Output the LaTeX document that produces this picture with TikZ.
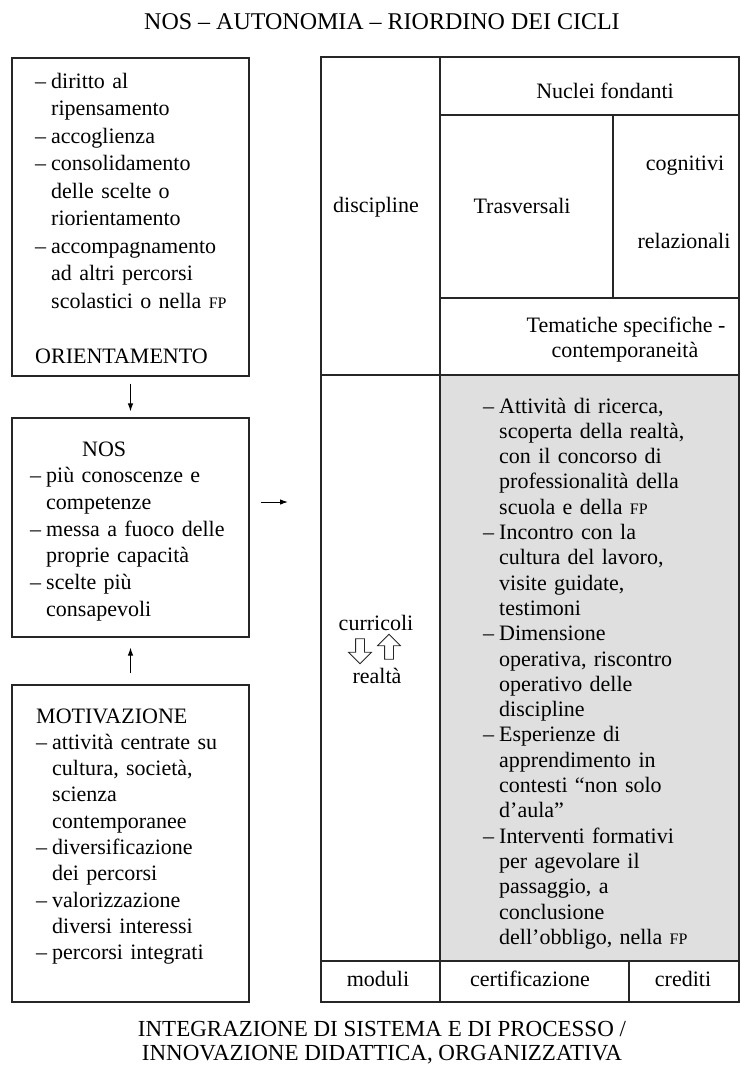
\documentclass[tikz,border=0pt]{standalone}
\usepackage{fontspec}
\setmainfont{Liberation Serif}
\usepackage{tikz}
\usetikzlibrary{arrows.meta}
\usetikzlibrary{shapes.arrows}

\newcommand{\vo}{\makebox[16pt][l]{–}}
\newcommand{\va}{\hspace*{16pt}}
\newcommand{\fp}{{\fontsize{16}{16}\selectfont FP}}

\begin{document}
\begin{tikzpicture}[x=1pt,y=-1pt,font=\fontsize{22}{26.5}\selectfont,
  box/.style={draw=black!85,line width=1.1pt,minimum width=237pt,inner sep=0pt},
  cell/.style={draw=black!85,line width=1.1pt,inner sep=0pt},
  lista/.style={anchor=base west,align=left,text width=230pt,inner sep=0pt},
  voce/.style={anchor=base,inner sep=0pt},
  freccia/.style={-{Latex[length=8pt,width=5.5pt]},line width=1pt},
  vuota/.style={draw=black!85,line width=0.8pt,single arrow,minimum height=25pt,
    inner xsep=0pt,inner ysep=4pt,single arrow head extend=7pt}]
\useasboundingbox (0,0) rectangle (740,1066);

\node[voce,font=\fontsize{24}{28}\selectfont] (titolo) at (382,29) {NOS – AUTONOMIA – RIORDINO DEI CICLI};

% colonna di sinistra
\node[box,minimum height=318pt] (orient) at (130.5,217) {};
\node[box,minimum height=219pt] (nos) at (130.5,527.5) {};
\node[box,minimum height=317pt] (motiv) at (130.5,843.5) {};

\node[lista,font=\fontsize{22}{27.5}\selectfont] (torient) at (35,88) {\vo diritto al\\
\va ripensamento\\
\vo accoglienza\\
\vo consolidamento\\
\va delle scelte o\\
\va riorientamento\\
\vo accompagnamento\\
\va ad altri percorsi\\
\va scolastici o nella \fp\\[27.5pt]
ORIENTAMENTO};

\node[lista,font=\fontsize{22}{26.7}\selectfont] (tnos) at (30,456) {\hspace*{52pt}NOS\\
\vo più conoscenze e\\
\va competenze\\
\vo messa a fuoco delle\\
\va proprie capacità\\
\vo scelte più\\
\va consapevoli};

\node[lista,font=\fontsize{22}{26.3}\selectfont] (tmotiv) at (36,723) {MOTIVAZIONE\\
\vo attività centrate su\\
\va cultura, società,\\
\va scienza\\
\va contemporanee\\
\vo diversificazione\\
\va dei percorsi\\
\vo valorizzazione\\
\va diversi interessi\\
\vo percorsi integrati};

\draw[freccia,shorten <=7pt,shorten >=6pt] (orient) -- (nos);
\draw[freccia,shorten <=11pt,shorten >=10pt] (motiv) -- (nos);
\coordinate (punta) at (288,502);
\draw[freccia,shorten <=11pt] (nos.east |- punta) -- (punta);

% tabella
\node[cell,minimum width=119pt,minimum height=318pt] (disc) at (380.5,216) {};
\node[cell,minimum width=299pt,minimum height=58pt] (nucl) at (589.5,86) {};
\node[cell,minimum width=173pt,minimum height=183pt] (trasv) at (526.5,206.5) {};
\node[cell,minimum width=126pt,minimum height=183pt] (cogrel) at (676,206.5) {};
\node[cell,minimum width=299pt,minimum height=77pt] (temat) at (589.5,336.5) {};
\node[cell,minimum width=119pt,minimum height=586pt] (curr) at (380.5,668) {};
\node[cell,fill=gray!25,minimum width=299pt,minimum height=586pt] (attiv) at (589.5,668) {};
\node[cell,minimum width=119pt,minimum height=41pt] (moduli) at (380.5,981.5) {};
\node[cell,minimum width=189pt,minimum height=41pt] (certif) at (534.5,981.5) {};
\node[cell,minimum width=110pt,minimum height=41pt] (cred) at (684,981.5) {};

\node[voce] (tdisc) at (376,212) {discipline};
\node[voce] (tnucl) at (605,98) {Nuclei fondanti};
\node[voce] (ttrasv) at (522,213) {Trasversali};
\node[voce] (tcogn) at (685,170) {cognitivi};
\node[voce] (trel) at (684,248) {relazionali};
\node[voce] (ttem) at (626,332) {Tematiche specifiche -};
\node[voce] (tcont) at (625,357) {contemporaneità};
\node[voce] (tcurr) at (376,630) {curricoli};
\node[vuota,rotate=-90] (giu) at (360,649) {};
\node[vuota,rotate=90] (su) at (389,649) {};
\node[voce] (treal) at (377,683) {realtà};

\node[lista,font=\fontsize{22}{25.3}\selectfont] (tattiv) at (483,413) {\vo Attività di ricerca,\\
\va scoperta della realtà,\\
\va con il concorso di\\
\va professionalità della\\
\va scuola e della \fp\\
\vo Incontro con la\\
\va cultura del lavoro,\\
\va visite guidate,\\
\va testimoni\\
\vo Dimensione\\
\va operativa, riscontro\\
\va operativo delle\\
\va discipline\\
\vo Esperienze di\\
\va apprendimento in\\
\va contesti “non solo\\
\va d’aula”\\
\vo Interventi formativi\\
\va per agevolare il\\
\va passaggio, a\\
\va conclusione\\
\va dell’obbligo, nella \fp};

\node[voce] (tmod) at (378,986) {moduli};
\node[voce] (tcert) at (530,986) {certificazione};
\node[voce] (tcred) at (683,986) {crediti};

\node[voce,font=\fontsize{23}{26}\selectfont] (didasc1) at (382,1036) {INTEGRAZIONE DI SISTEMA E DI PROCESSO /};
\node[voce,font=\fontsize{23}{26}\selectfont] (didasc2) at (382,1060) {INNOVAZIONE DIDATTICA, ORGANIZZATIVA};
\end{tikzpicture}
\end{document}
